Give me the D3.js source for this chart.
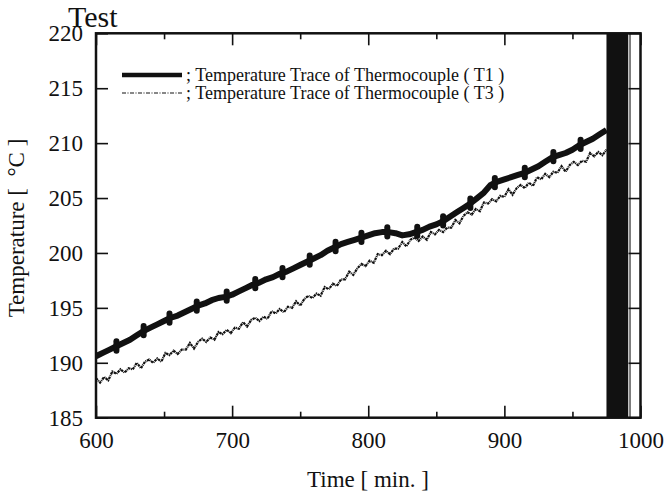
<!DOCTYPE html>
<html>
<head>
<meta charset="utf-8">
<title>Test</title>
<script src="https://d3js.org/d3.v7.min.js"></script>
<style>
  body { margin: 0; background: #fff; }
  svg text { font-family: "Liberation Serif", "Times New Roman", serif; fill: #111; }
</style>
</head>
<body>
<svg id="chart"></svg>
<script>
// thermocouple T1, sampled every 5 min from 600
const t1Start = 600, t1Step = 5;
const t1Values = [
  190.6, 190.9, 191.2, 191.5, 191.8, 192.1, 192.5, 192.9, 193.2, 193.5,
  193.8, 194.1, 194.3, 194.6, 194.9, 195.2, 195.4, 195.7, 195.9, 196.0,
  196.2, 196.5, 196.8, 197.1, 197.3, 197.6, 197.8, 198.1, 198.3, 198.6,
  198.9, 199.2, 199.5, 199.8, 200.2, 200.5, 200.8, 201.0, 201.2, 201.4,
  201.6, 201.8, 201.9, 201.9, 201.8, 201.6, 201.7, 201.9, 202.1, 202.4,
  202.6, 202.9, 203.3, 203.7, 204.1, 204.5, 205.0, 205.5, 206.2, 206.5,
  206.7, 206.9, 207.1, 207.3, 207.6, 207.9, 208.3, 208.7, 208.9, 209.1,
  209.4, 209.8, 210.1, 210.4, 210.8, 211.2
];
// little kinks seen on the T1 trace (min)
const t1Bumps = [615, 635, 654, 674, 696, 717, 737, 757, 776, 795, 814, 836, 855, 875, 893, 915, 936, 956];

// thermocouple T3, noisy, sampled every 3 min from 600
const t3Start = 600, t3Step = 3;
const t3Values = [
  188.6, 188.2, 188.7, 188.4, 189.2, 189.0, 189.4, 189.1, 189.5, 189.4,
  190.0, 189.5, 190.1, 190.3, 190.0, 190.4, 190.1, 190.9, 190.7, 191.1,
  190.8, 191.2, 191.2, 191.8, 191.3, 191.9, 192.2, 191.9, 192.3, 192.1,
  192.8, 192.6, 193.0, 192.7, 193.2, 193.1, 193.7, 193.3, 193.9, 194.1,
  193.8, 194.2, 194.0, 194.7, 194.5, 194.9, 194.6, 195.1, 195.0, 195.6,
  195.2, 195.8, 196.1, 195.9, 196.3, 196.1, 196.9, 196.7, 197.2, 197.0,
  197.6, 197.6, 198.3, 198.0, 198.6, 199.0, 198.8, 199.3, 199.1, 199.9,
  199.8, 200.2, 199.9, 200.4, 200.4, 201.0, 200.6, 201.2, 201.4, 201.1,
  201.5, 201.2, 201.9, 201.7, 202.1, 201.9, 202.3, 202.3, 203.0, 202.7,
  203.4, 203.7, 203.5, 204.0, 203.8, 204.6, 204.5, 204.9, 204.7, 205.2,
  205.1, 205.8, 205.3, 205.9, 206.2, 205.9, 206.4, 206.1, 206.9, 206.7,
  207.2, 206.9, 207.4, 207.3, 207.9, 207.4, 208.0, 208.3, 208.0, 208.4,
  208.3, 209.1, 208.8, 209.2, 208.9, 209.4
];

// the recorder saturates here: solid band then one stray trace (min)
const dropoutStart = 975, dropoutEnd = 991, dropoutTail = 992.3;

const xMajor = [600, 700, 800, 900, 1000];
const xMinor = [650, 750, 850, 950];
const yMajor = [185, 190, 195, 200, 205, 210, 215, 220];

const legendLabels = [
  "; Temperature Trace of Thermocouple ( T1 )",
  "; Temperature Trace of Thermocouple ( T3 )"
];

const W = 664, H = 495;
const svg = d3.select("#chart").attr("width", W).attr("height", H);

const x = d3.scaleLinear().domain([600, 1000]).range([96, 640.5]);
const y = d3.scaleLinear().domain([185, 220]).range([417.7, 33.3]);

const t1 = t1Values.map((v, i) => [t1Start + i * t1Step, v]);
const t3 = t3Values.map((v, i) => [t3Start + i * t3Step, v]);

svg.append("clipPath").attr("id", "plot")
  .append("rect")
  .attr("x", x(600)).attr("y", y(220))
  .attr("width", x(1000) - x(600)).attr("height", y(185) - y(220));

const plot = svg.append("g").attr("clip-path", "url(#plot)");
const line = d3.line().x(d => x(d[0])).y(d => y(d[1]));

plot.append("path")
  .datum(t3)
  .attr("d", line)
  .attr("fill", "none")
  .attr("stroke", "#111")
  .attr("stroke-width", 2.2)
  .attr("stroke-dasharray", "2.5,0.7,1,0.7");

plot.append("path")
  .datum(t1)
  .attr("d", line)
  .attr("fill", "none")
  .attr("stroke", "#111")
  .attr("stroke-width", 6)
  .attr("stroke-linejoin", "round");

// kinks drawn on top of the T1 trace
const t1Interp = d3.scaleLinear().domain(t1.map(d => d[0])).range(t1.map(d => d[1]));
plot.selectAll(".bump")
  .data(t1Bumps)
  .join("line")
  .attr("class", "bump")
  .attr("x1", d => x(d)).attr("x2", d => x(d))
  .attr("y1", d => y(t1Interp(d) + 0.45))
  .attr("y2", d => y(t1Interp(d) - 0.4))
  .attr("stroke", "#111")
  .attr("stroke-width", 6)
  .attr("stroke-linecap", "round");

plot.append("rect")
  .attr("x", x(dropoutStart)).attr("y", y(220))
  .attr("width", x(dropoutEnd) - x(dropoutStart))
  .attr("height", y(185) - y(220))
  .attr("fill", "#111");

plot.append("line")
  .attr("x1", x(dropoutTail)).attr("x2", x(dropoutTail))
  .attr("y1", y(220)).attr("y2", y(185))
  .attr("stroke", "#555").attr("stroke-width", 1.5);

// axes (ticks point inward on all four sides)
function styleAxis(g) {
  g.select(".domain").remove();
  g.selectAll(".tick line").attr("stroke", "#111").attr("stroke-width", 1.6);
  g.selectAll("text")
    .attr("font-family", "Liberation Serif, Times New Roman, serif")
    .attr("font-size", 23)
    .attr("fill", "#111");
}

svg.append("g").attr("transform", `translate(0,${y(185)})`)
  .call(d3.axisBottom(x).tickValues(xMajor).tickSize(-12).tickPadding(14).tickFormat(d3.format("d")))
  .call(styleAxis);
svg.append("g").attr("transform", `translate(0,${y(185)})`)
  .call(d3.axisBottom(x).tickValues(xMinor).tickSize(-6).tickFormat(""))
  .call(styleAxis);
svg.append("g").attr("transform", `translate(0,${y(220)})`)
  .call(d3.axisTop(x).tickValues(xMajor).tickSize(-12).tickFormat(""))
  .call(styleAxis);
svg.append("g").attr("transform", `translate(0,${y(220)})`)
  .call(d3.axisTop(x).tickValues(xMinor).tickSize(-6).tickFormat(""))
  .call(styleAxis);
svg.append("g").attr("transform", `translate(${x(600)},0)`)
  .call(d3.axisLeft(y).tickValues(yMajor).tickSize(-12).tickPadding(13).tickFormat(d3.format("d")))
  .call(styleAxis);
svg.append("g").attr("transform", `translate(${x(1000)},0)`)
  .call(d3.axisRight(y).tickValues(yMajor).tickSize(-12).tickFormat(""))
  .call(styleAxis);

svg.append("rect")
  .attr("x", x(600)).attr("y", y(220))
  .attr("width", x(1000) - x(600)).attr("height", y(185) - y(220))
  .attr("fill", "none").attr("stroke", "#111").attr("stroke-width", 2.5);

// titles
svg.append("text")
  .attr("x", 68).attr("y", 27)
  .attr("font-size", 30)
  .text("Test");

svg.append("text")
  .attr("x", 368).attr("y", 487)
  .attr("text-anchor", "middle")
  .attr("font-size", 23)
  .text("Time [ min. ]");

svg.append("text")
  .attr("transform", "translate(24,228) rotate(-90)")
  .attr("text-anchor", "middle")
  .attr("font-size", 23)
  .text("Temperature [ \u00a0\u00b0C ]");

// legend
const legend = svg.append("g");
const legendRows = [
  {width: 4.5, dash: null},
  {width: 1.2, dash: "4,1.5,1,1.5"}
];
legendRows.forEach((r, i) => {
  const ly = 75 + i * 18;
  legend.append("line")
    .attr("x1", 122).attr("x2", 182)
    .attr("y1", ly).attr("y2", ly)
    .attr("stroke", "#111")
    .attr("stroke-width", r.width)
    .attr("stroke-dasharray", r.dash);
  legend.append("text")
    .attr("x", 186).attr("y", ly + 5.5)
    .attr("font-size", 18)
    .text(legendLabels[i]);
});
</script>
</body>
</html>
